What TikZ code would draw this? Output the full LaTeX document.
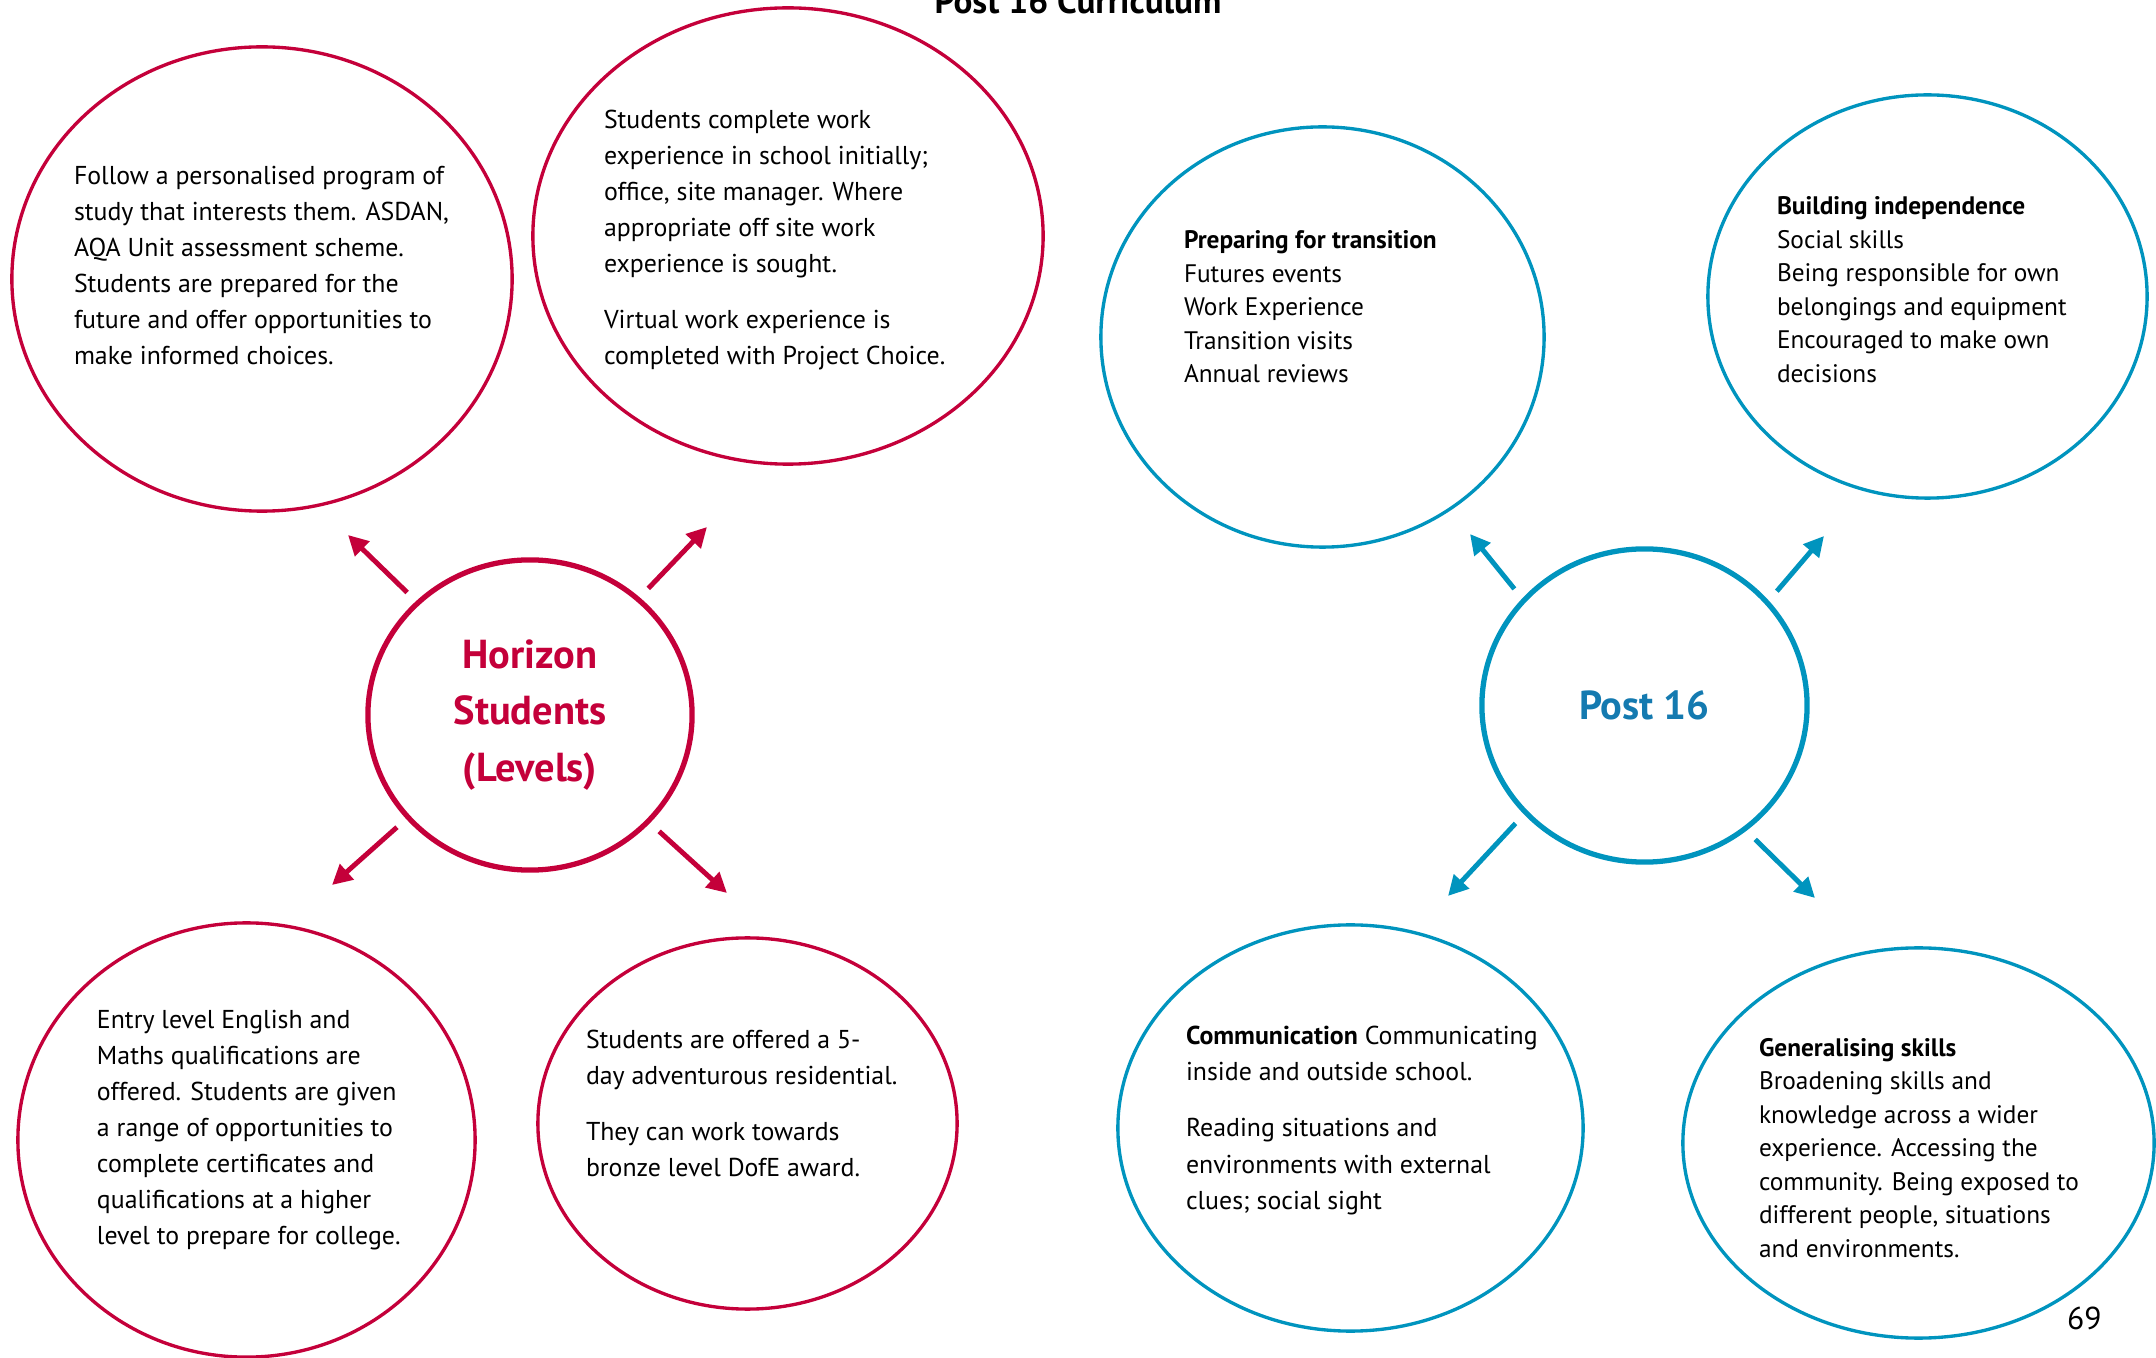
\documentclass[tikz,border=0pt]{standalone}
\usepackage{fontspec}
\setmainfont{PT Sans}
\usetikzlibrary{shapes.geometric,arrows.meta,positioning}
\definecolor{horizonRed}{RGB}{196,0,58}
\definecolor{postBlue}{RGB}{0,148,190}
\definecolor{postText}{RGB}{20,122,176}

\begin{document}
\begin{tikzpicture}[x=0.01cm, y=-0.01cm,
        every node/.style={inner sep=0pt, outer sep=0pt},
        oval/.style={draw, ellipse, line width=0.95pt},
        redoval/.style={oval, draw=horizonRed},
        blueoval/.style={oval, draw=postBlue},
        hub/.style={ellipse, line width=1.5pt, align=center, font=\bfseries\fontsize{11.5pt}{16.1pt}\selectfont},
        body/.style={anchor=west, align=left, font=\fontsize{7.35pt}{10.24pt}\selectfont},
        bodytight/.style={body, font=\fontsize{7.2pt}{9.53pt}\selectfont},
        redarrow/.style={draw=horizonRed, line width=1.4pt, -{Triangle[length=0.2cm,width=0.2cm]}, shorten <=0.15cm},
        bluearrow/.style={draw=postBlue, line width=1.4pt, -{Triangle[length=0.2cm,width=0.2cm]}, shorten <=0.15cm}]
        \useasboundingbox (0,0) rectangle (2156,1358);
        \clip (0,0) rectangle (2156,1358);

        \node[font=\bfseries\fontsize{10pt}{12pt}\selectfont, anchor=base] (title) at (1078,14) {Post 16 Curriculum};

        % Horizon side
        \node[hub, draw=horizonRed, text=horizonRed, minimum width=3.24cm, minimum height=3.10cm] (horizon) at (530,715)
            {Horizon\\Students\\(Levels)};
        \node[redoval, minimum width=5.00cm, minimum height=4.64cm] (study) at (262,279) {};
        \node[redoval, minimum width=5.10cm, minimum height=4.56cm] (work) at (788,236) {};
        \node[redoval, minimum width=4.57cm, minimum height=4.34cm] (quals) at (246.5,1140) {};
        \node[redoval, minimum width=4.19cm, minimum height=3.71cm] (resid) at (747.5,1123.5) {};

        \node[body] (studyText) at (74,265.5)
            {Follow a personalised program of\\study that interests them. ASDAN,\\AQA Unit assessment scheme.\\Students are prepared for the\\future and offer opportunities to\\make informed choices.};
        \node[body] (workText) at (604,240)
            {Students complete work\\experience in school initially;\\office, site manager. Where\\appropriate off site work\\experience is sought.\\[0.2cm]
             Virtual work experience is\\completed with Project Choice.};
        \node[body] (qualsText) at (97,1130.5)
            {Entry level English and\\Maths qualifications are\\offered. Students are given\\a range of opportunities to\\complete certificates and\\qualifications at a higher\\level to prepare for college.};
        \node[body] (residText) at (586,1103.5)
            {Students are offered a 5-\\day adventurous residential.\\[0.2cm]
             They can work towards\\bronze level DofE award.};

        \coordinate (hzNW) at (348,535);
        \coordinate (hzNE) at (707,527);
        \coordinate (hzSW) at (332,885);
        \coordinate (hzSE) at (727,893);
        \draw[redarrow] (horizon.135) -- (hzNW);
        \draw[redarrow] (horizon.47) -- (hzNE);
        \draw[redarrow] (horizon.220) -- (hzSW);
        \draw[redarrow] (horizon.318) -- (hzSE);

        % Post 16 side
        \node[hub, draw=postBlue, text=postText, minimum width=3.25cm, minimum height=3.13cm] (post) at (1644.5,705.5)
            {Post 16};
        \node[blueoval, minimum width=4.43cm, minimum height=4.20cm] (prep) at (1322.5,337) {};
        \node[blueoval, minimum width=4.39cm, minimum height=4.03cm] (indep) at (1927.5,296.5) {};
        \node[blueoval, minimum width=4.65cm, minimum height=4.06cm] (comm) at (1350.5,1128) {};
        \node[blueoval, minimum width=4.71cm, minimum height=3.90cm] (gen) at (1918.5,1143) {};

        \node[bodytight] (prepText) at (1184,307)
            {\textbf{Preparing for transition}\\Futures events\\Work Experience\\Transition visits\\Annual reviews};
        \node[bodytight] (indepText) at (1777,289.5)
            {\textbf{Building independence}\\Social skills\\Being responsible for own\\belongings and equipment\\Encouraged to make own\\decisions};
        \node[body] (commText) at (1186,1120.5)
            {\textbf{Communication} Communicating\\inside and outside school.\\[0.2cm]
             Reading situations and\\environments with external\\clues; social sight};
        \node[bodytight] (genText) at (1759,1148)
            {\textbf{Generalising skills}\\Broadening skills and\\knowledge across a wider\\experience. Accessing the\\community. Being exposed to\\different people, situations\\and environments.};

        \coordinate (psNW) at (1470,534);
        \coordinate (psNE) at (1824,536);
        \coordinate (psSW) at (1448,896);
        \coordinate (psSE) at (1815,898);
        \draw[bluearrow] (post.139) -- (psNW);
        \draw[bluearrow] (post.40) -- (psNE);
        \draw[bluearrow] (post.222) -- (psSW);
        \draw[bluearrow] (post.309) -- (psSE);

        \node[font=\fontsize{9pt}{11pt}\selectfont, anchor=base west] (page) at (2067,1329) {69};
    \end{tikzpicture}
\end{document}
